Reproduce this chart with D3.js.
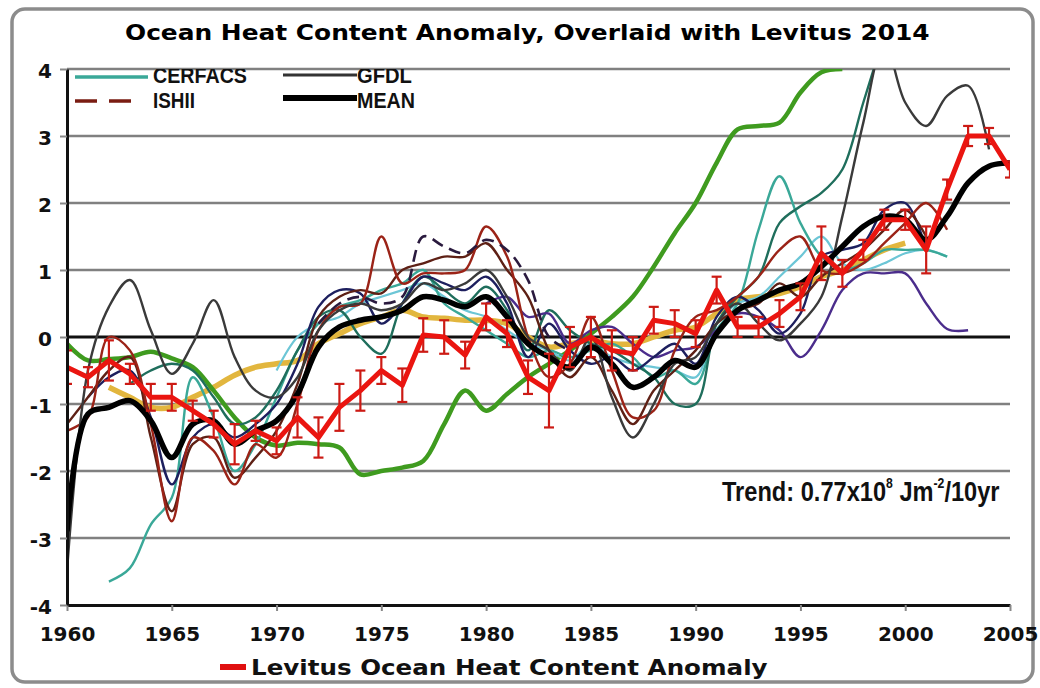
<!DOCTYPE html>
<html>
<head>
<meta charset="utf-8">
<script src="https://cdn.jsdelivr.net/npm/d3@7"></script>
<style>
  body { margin: 0; background: #fff; }
  svg { display: block; }
</style>
</head>
<body>
<svg id="chart"></svg>
<script>
// ---- data (one value per year 1960..2005) ----
const years = d3.range(1960, 2006);
const yTicks = d3.range(-4, 5);
const xTicks = d3.range(1960, 2006, 5);

const levitus = [
  -0.45, -0.6, -0.35, -0.55, -0.9, -0.9, -1.1, -1.3, -1.6, -1.4,
  -1.55, -1.2, -1.5, -1.05, -0.8, -0.5, -0.72, 0.03, 0.0, -0.27,
  0.3, 0.05, -0.6, -0.8, -0.15, 0.0, -0.2, -0.25, 0.25, 0.2,
  0.05, 0.7, 0.15, 0.15, 0.35, 0.6, 1.25, 0.95, 1.3, 1.75,
  1.75, 1.3, 2.2, 3.0, 3.0, 2.5
];
const levitusErr = [
  0.25, 0.15, 0.3, 0.15, 0.2, 0.2, 0.15, 0.2, 0.3, 0.15,
  0.2, 0.3, 0.3, 0.35, 0.3, 0.2, 0.25, 0.25, 0.25, 0.2,
  0.2, 0.2, 0.25, 0.55, 0.3, 0.3, 0.3, 0.25, 0.2, 0.2,
  0.2, 0.2, 0.15, 0.15, 0.2, 0.2, 0.4, 0.2, 0.15, 0.15,
  0.15, 0.35, 0.15, 0.15, 0.12, 0.12
];
const mean = [
  -2.9, -1.15, -1.05, -0.95, -1.25, -1.8, -1.3, -1.25, -1.6, -1.4,
  -1.25, -0.85, -0.15, 0.15, 0.25, 0.3, 0.4, 0.6, 0.55, 0.45,
  0.6, 0.3, -0.1, -0.3, -0.45, -0.15, -0.4, -0.75, -0.6, -0.35,
  -0.45, 0.05, 0.4, 0.55, 0.7, 0.8, 1.05, 1.35, 1.65, 1.8,
  1.75, 1.45, 1.8, 2.3, 2.55, 2.6
];
const green = [
  -0.1, -0.35, -0.33, -0.3, -0.22, -0.32, -0.45, -0.8, -1.2, -1.5,
  -1.62, -1.58, -1.6, -1.65, -2.05, -2.0, -1.95, -1.85, -1.3, -0.8,
  -1.1, -0.85, -0.6, -0.4, -0.2, 0.05, 0.3, 0.6, 1.05, 1.55,
  2.0, 2.6, 3.1, 3.15, 3.2, 3.65, 3.95, 4.0, null, null,
  null, null, null, null, null, null
];
const gold = [
  null, null, -0.75, -0.9, -1.05, -1.05, -0.9, -0.75, -0.57, -0.45,
  -0.4, -0.35, -0.1, 0.05, 0.2, 0.3, 0.4, 0.3, 0.28, 0.25,
  0.25, 0.2, 0.0, -0.15, -0.1, -0.05, -0.1, -0.1, 0.0, 0.1,
  0.15, 0.35, 0.55, 0.6, 0.65, 0.75, 0.9, 1.0, 1.15, 1.3,
  1.4, null, null, null, null, null
];
const gfdl = [
  -3.5, -0.5, 0.45, 0.85, 0.1, -0.55, -0.1, 0.55, -0.3, -0.8,
  -0.9, -0.6, 0.1, 0.4, 0.5, 0.4, 0.5, 0.8, 0.7, 0.8,
  1.0, 0.6, 0.0, -0.2, -0.5, 0.0, -0.9, -1.5, -1.0, -0.4,
  -0.3, 0.2, 0.5, 0.2, -0.05, 0.2, 0.6, 1.8, 3.2, 4.4,
  3.5, 3.15, 3.6, 3.75, 2.8, null
];
const cerfacs = [
  null, null, -3.65, -3.45, -2.8, -2.4, -0.6, -1.2, -2.0, -1.6,
  -0.9, -0.2, 0.2, 0.45, 0.55, 0.7, 0.8, 1.0, 0.5, 0.3,
  0.1, -0.1, -0.3, -0.2, -0.3, -0.2, -0.1, -0.3, -0.6, -0.5,
  -0.7, 0.1, 0.5, 1.6, 2.4, 1.7, 1.2, 1.0, 1.1, 1.3,
  1.3, 1.3, 1.2, null, null, null
];
const darkTeal = [
  null, null, null, -0.7, -0.5, -0.4, -0.5, -0.9, -1.3, -1.2,
  -0.8, -0.2, 0.3, 0.4, 0.0, -0.25, 0.5, 0.9, 0.7, 0.5,
  0.75, 0.4, -0.2, 0.4, 0.1, -0.1, -0.2, -0.4, -0.6, -1.0,
  -1.0, 0.2, 0.6, 0.9, 1.7, 1.95, 2.15, 2.5, 3.5, 4.5,
  null, null, null, null, null, null
];
const cyan = [
  null, null, null, null, null, null, null, null, null, null,
  -0.5, 0.0, 0.2, 0.3, 0.5, 0.6, 0.7, 0.8, 0.6, 0.4,
  0.3, 0.1, -0.1, -0.2, -0.35, -0.1, -0.3, -0.4, -0.45, -0.5,
  -0.6, 0.2, 0.5, 0.6, 0.9, 1.2, 1.5, 1.1, 1.0, 1.1,
  1.25, 1.3, 1.2, null, null, null
];
const navy = [
  null, -0.9, -0.6, -0.5, -1.2, -2.2, -1.5, -1.3, -1.5, -1.3,
  -1.0, -0.4, 0.45, 0.7, 0.65, 0.2, 0.5, 0.9, 0.8, 0.7,
  0.9, 0.5, -0.3, 0.2, -0.2, -0.4, -0.3, -0.5, -0.3, -0.1,
  -0.4, 0.3, 0.6, 0.4, 0.05, 0.35, 1.2, 1.3, 1.4, 1.9,
  2.0, 1.3, null, null, null, null
];
const purple = [
  null, null, null, null, null, null, null, null, null, null,
  null, null, null, null, null, null, null, null, null, null,
  0.5, 0.6, 0.3, 0.35, -0.1, 0.1, 0.15, -0.1, -0.3, -0.2,
  -0.15, 0.1, 0.35, 0.3, 0.1, -0.3, 0.1, 0.7, 0.95, 0.95,
  0.95, 0.5, 0.12, 0.1, null, null
];
const redBrown = [
  -1.4, -1.2, 0.0, -0.2, -1.3, -2.75, -1.5, -1.7, -2.2, -1.6,
  -1.8, -1.0, 0.1, 0.45, 0.5, 1.5, 0.8, 0.95, 0.95, 1.0,
  1.65, 1.2, 0.0, -0.6, -0.4, 0.3, -0.5, -1.2, -1.1, -0.2,
  0.3, 0.4, 0.6, 0.9, 1.3, 1.5, 1.0, 0.95, 1.1, 1.4,
  1.7, 2.0, 1.6, null, null, null
];
const brown = [
  -1.3, -0.9, -0.5, -0.3, -1.5, -2.6, -1.6, -1.5, -2.1, -1.8,
  -1.4, -0.7, 0.3, 0.6, 0.7, 0.65, 1.0, 1.1, 1.2, 1.2,
  1.4, 1.0, 0.6, -0.2, -0.6, -0.3, -0.8, -1.3, -0.8, -0.5,
  -0.2, 0.2, 0.4, 0.5, 0.8, 0.6, 0.9, 1.1, 1.3, 1.6,
  1.9, 1.5, null, null, null, null
];
const ishii = [
  null, null, null, null, null, null, null, null, null, null,
  null, null, 0.2, 0.5, 0.6, 0.5, 0.6, 1.5, 1.35, 1.25,
  1.45, 1.3, 0.85, 0.0, -0.2, null, null, null, null, null,
  null, null, null, null, null, null, null, null, null, null,
  null, null, null, null, null, null
];

const W = 1040, H = 688;
const margin = { left: 67, right: 30, top: 69, bottom: 83 };

const svg = d3.select("#chart").attr("width", W).attr("height", H);

const x = d3.scaleLinear().domain([1960, 2005]).range([margin.left, W - margin.right]);
const y = d3.scaleLinear().domain([-4, 4]).range([H - margin.bottom, margin.top]);

// squeeze a text/group horizontally so it spans the given width
function fitWidth(sel, x0, y0, width) {
  const w = sel.node().getBBox().width;
  sel.attr("transform", `translate(${x0},${y0}) scale(${width / w},1)`);
}

// frame
svg.append("rect")
  .attr("x", 12).attr("y", 9).attr("width", 1021).attr("height", 673)
  .attr("rx", 13)
  .attr("fill", "#fff").attr("stroke", "#8c8c8c").attr("stroke-width", 3.5);

// title
const title = svg.append("text")
  .attr("font-family", "DejaVu Sans, Verdana, sans-serif")
  .attr("font-weight", "bold").attr("font-size", 22)
  .text("Ocean Heat Content Anomaly, Overlaid with Levitus 2014");
fitWidth(title, 125, 40, 805);

// grid
svg.append("g")
  .selectAll("line")
  .data(yTicks.filter(d => d > -4))
  .join("line")
  .attr("x1", x(1960)).attr("x2", x(2005))
  .attr("y1", d => y(d)).attr("y2", d => y(d))
  .attr("stroke", d => d === 0 ? "#111" : "#808080")
  .attr("stroke-width", d => d === 0 ? 3 : 2.5);

svg.append("defs").append("clipPath").attr("id", "plot")
  .append("rect")
  .attr("x", x(1960)).attr("y", y(4))
  .attr("width", x(2005) - x(1960)).attr("height", y(-4) - y(4));

// top legend (clipped by the plot top like the original)
const legendG = svg.append("g").attr("clip-path", "url(#plot)");
const legendItems = [
  { label: "CERFACS", color: "#3aa898", width: 3.5, dash: null, lx: 75, lx2: 148, ly: 77, tx: 153, ty: 83, tw: 94 },
  { label: "ISHII", color: "#7a1c12", width: 3.5, dash: "22,12", lx: 75, lx2: 137, ly: 101, tx: 153, ty: 108, tw: 42 },
  { label: "GFDL", color: "#333", width: 3, dash: null, lx: 283, lx2: 357, ly: 75, tx: 357, ty: 83, tw: 55 },
  { label: "MEAN", color: "#000", width: 6, dash: null, lx: 283, lx2: 357, ly: 98, tx: 357, ty: 108, tw: 58 }
];
legendItems.forEach(d => {
  legendG.append("line")
    .attr("x1", d.lx).attr("x2", d.lx2).attr("y1", d.ly).attr("y2", d.ly)
    .attr("stroke", d.color).attr("stroke-width", d.width)
    .attr("stroke-dasharray", d.dash);
  const t = legendG.append("text")
    .attr("font-family", "Liberation Sans Narrow, Arial Narrow, Liberation Sans, sans-serif")
    .attr("font-weight", "bold").attr("font-size", 22)
    .attr("fill", "#111")
    .text(d.label);
  fitWidth(t, d.tx, d.ty, d.tw);
});

// model curves
const models = [
  { values: gold, color: "#e2b63e", width: 5.5 },
  { values: green, color: "#3f9b1f", width: 4.5 },
  { values: cyan, color: "#6cc6d6", width: 2.2 },
  { values: cerfacs, color: "#3aa898", width: 2.4 },
  { values: darkTeal, color: "#1f6e5c", width: 2.4 },
  { values: purple, color: "#4b2d8c", width: 2.4 },
  { values: navy, color: "#1d1f5e", width: 2.4 },
  { values: brown, color: "#5e2015", width: 2.4 },
  { values: redBrown, color: "#9b2317", width: 2.4 },
  { values: gfdl, color: "#3a3a3a", width: 2.4 },
  { values: ishii, color: "#2a1a3e", width: 2.6, dash: "12,7" },
  { values: mean, color: "#000", width: 5.5 }
];

const line = d3.line()
  .defined(d => d[1] != null)
  .x(d => x(d[0]))
  .y(d => y(d[1]))
  .curve(d3.curveCatmullRom.alpha(0.5));

const plot = svg.append("g").attr("clip-path", "url(#plot)");

plot.selectAll("path.model")
  .data(models)
  .join("path")
  .attr("class", "model")
  .attr("fill", "none")
  .attr("stroke", d => d.color)
  .attr("stroke-width", d => d.width)
  .attr("stroke-dasharray", d => d.dash || null)
  .attr("stroke-linejoin", "round")
  .attr("d", d => line(years.map((yr, i) => [yr, d.values[i]])));

// Levitus with error bars
const lev = years.map((yr, i) => ({ year: yr, v: levitus[i], e: levitusErr[i] }));

const bars = plot.append("g").attr("stroke", "#cc1a14").attr("stroke-width", 2.2);
bars.selectAll("line.err")
  .data(lev).join("line").attr("class", "err")
  .attr("x1", d => x(d.year)).attr("x2", d => x(d.year))
  .attr("y1", d => y(d.v - d.e)).attr("y2", d => y(d.v + d.e));
bars.selectAll("line.capt")
  .data(lev).join("line").attr("class", "capt")
  .attr("x1", d => x(d.year) - 5).attr("x2", d => x(d.year) + 5)
  .attr("y1", d => y(d.v + d.e)).attr("y2", d => y(d.v + d.e));
bars.selectAll("line.capb")
  .data(lev).join("line").attr("class", "capb")
  .attr("x1", d => x(d.year) - 5).attr("x2", d => x(d.year) + 5)
  .attr("y1", d => y(d.v - d.e)).attr("y2", d => y(d.v - d.e));

plot.append("path")
  .datum(lev)
  .attr("fill", "none")
  .attr("stroke", "#ea1510")
  .attr("stroke-width", 5)
  .attr("stroke-linejoin", "round")
  .attr("d", d3.line().x(d => x(d.year)).y(d => y(d.v)));

// axes
const tickFont = g => g.selectAll("text")
  .attr("font-family", "DejaVu Sans, Verdana, sans-serif")
  .attr("font-weight", "bold")
  .attr("font-size", 20)
  .attr("fill", "#111");

const xAxis = svg.append("g")
  .attr("transform", `translate(0,${y(-4)})`)
  .call(d3.axisBottom(x).tickValues(xTicks).tickFormat(d3.format("d")).tickSize(6).tickSizeOuter(0))
  .call(tickFont);
xAxis.select(".domain").attr("stroke", "#111").attr("stroke-width", 3);
xAxis.selectAll(".tick line").attr("stroke", "#888").attr("stroke-width", 2);
xAxis.selectAll(".tick text").attr("dy", "0.71em").attr("y", 22);

const yAxis = svg.append("g")
  .attr("transform", `translate(${x(1960)},0)`)
  .call(d3.axisLeft(y).tickValues(yTicks).tickFormat(d => d < 0 ? "-" + (-d) : String(d)).tickSize(7).tickSizeOuter(0))
  .call(tickFont);
yAxis.select(".domain").attr("stroke", "#111").attr("stroke-width", 3);
yAxis.selectAll(".tick line").attr("stroke", "#888").attr("stroke-width", 2);
yAxis.selectAll(".tick text").attr("x", -15).attr("dy", "0.4em");

// trend note
const trend = svg.append("text")
  .attr("font-family", "Liberation Sans Narrow, Arial Narrow, Liberation Sans, sans-serif")
  .attr("font-weight", "bold").attr("font-size", 27).attr("fill", "#111");
trend.append("tspan").text("Trend: 0.77x10");
trend.append("tspan").attr("font-size", 14).attr("dy", -13).text("8");
trend.append("tspan").attr("dy", 13).text(" Jm");
trend.append("tspan").attr("font-size", 14).attr("dy", -13).text("-2");
trend.append("tspan").attr("dy", 13).text("/10yr");
fitWidth(trend, 722, 501, 278);

// bottom legend
svg.append("line")
  .attr("x1", 220).attr("x2", 246).attr("y1", 667).attr("y2", 667)
  .attr("stroke", "#e01010").attr("stroke-width", 6);
const levLabel = svg.append("text")
  .attr("font-family", "DejaVu Sans, Verdana, sans-serif")
  .attr("font-weight", "bold").attr("font-size", 22).attr("fill", "#111")
  .text("Levitus Ocean Heat Content Anomaly");
fitWidth(levLabel, 251, 675, 517);
</script>
</body>
</html>
